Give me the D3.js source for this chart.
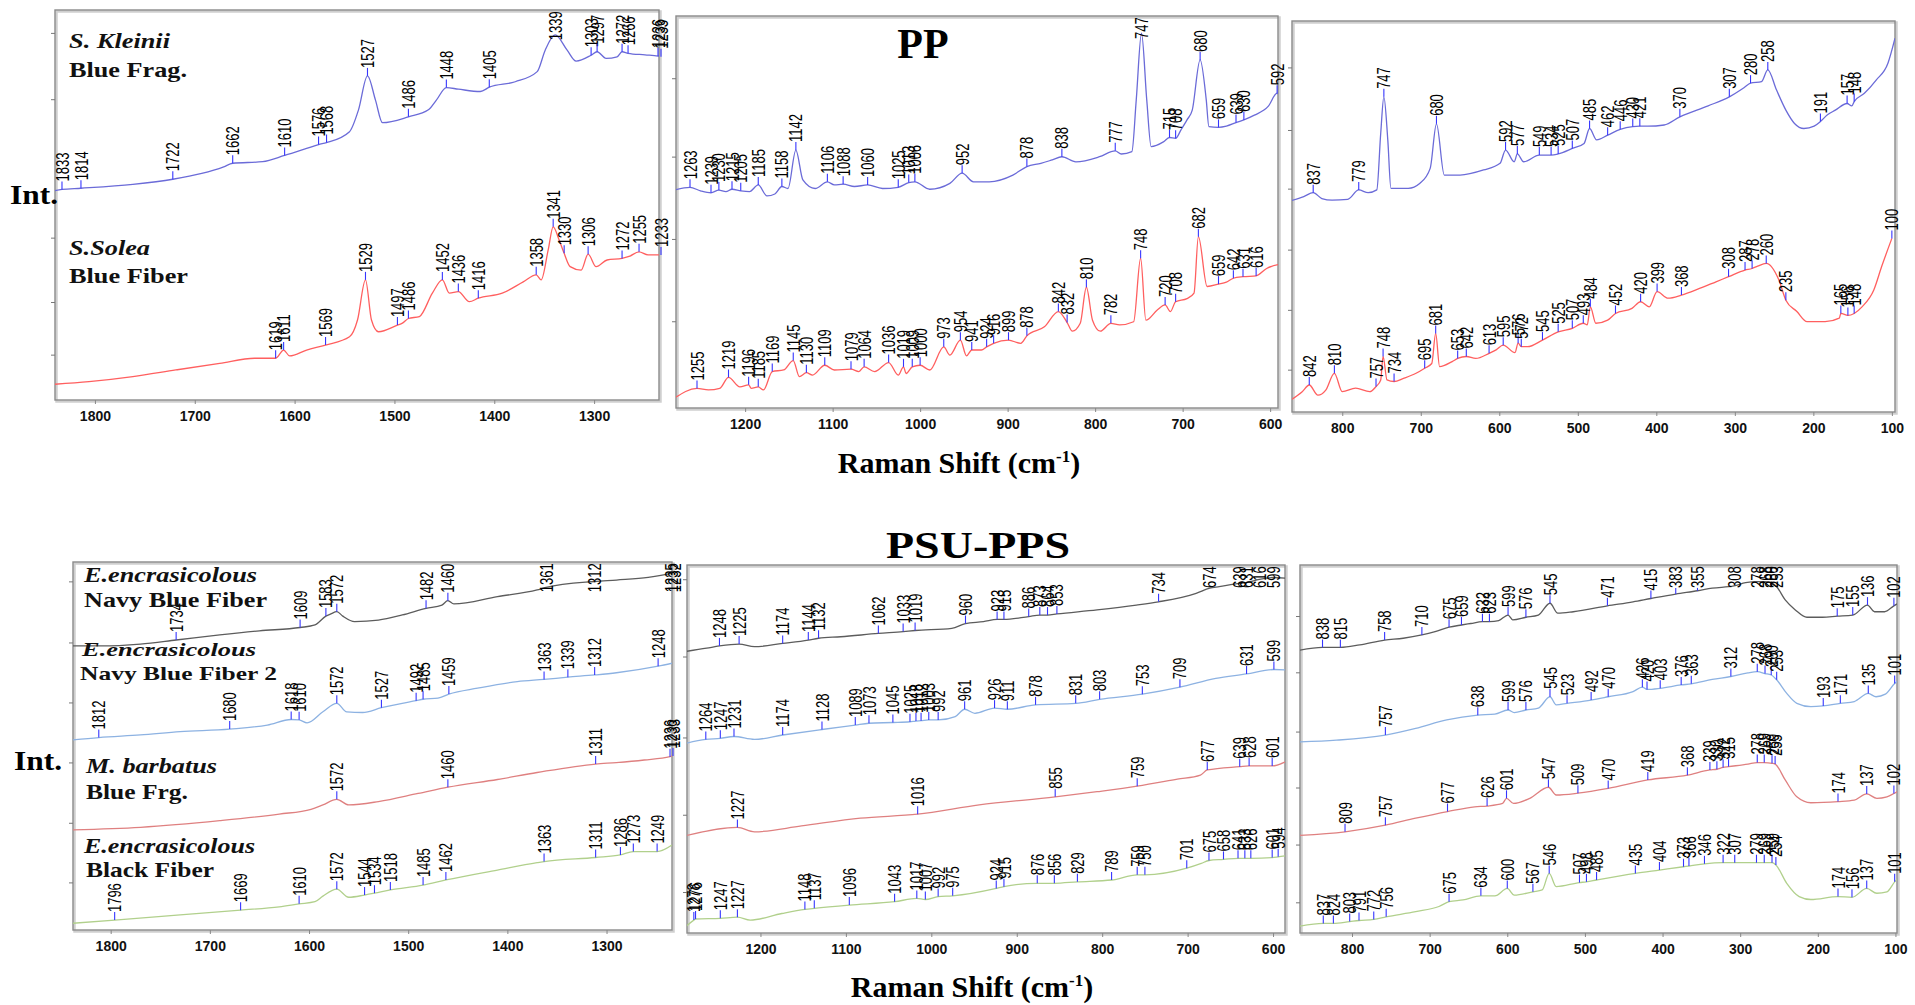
<!DOCTYPE html>
<html>
<head>
<meta charset="utf-8">
<script src="https://cdn.jsdelivr.net/npm/d3@7"></script>
<style>
  body { margin: 0; background: #fff; }
</style>
</head>
<body>
<svg id="chart"></svg>
<script>
// Raman spectra, PP (top) and PSU-PPS (bottom), intensity in arbitrary units 0-100 per panel

// ---- PP : S. Kleinii blue fragment ----
var kleiniiHi = [[1842,53.6],[1833,54.0],[1814,54.3],[1762,55.3],[1722,56.6],[1693,58.1],[1671,59.8],[1662,60.7],[1632,61.1],[1610,62.7],[1588,64.5],[1576,65.5],[1568,66.0],[1545,68.8],[1536,74.4],[1527,83.1],[1519,76.9],[1512,71.1],[1486,72.6],[1466,74.4],[1458,76.9],[1448,80.1],[1436,79.7],[1414,79.1],[1405,80.2],[1379,81.6],[1357,84.2],[1349,89.7],[1339,93.6],[1327,89.7],[1318,86.9],[1303,88.4],[1297,89.3],[1288,87.6],[1277,88.0],[1272,89.3],[1266,88.9],[1249,88.5],[1236,88.2],[1233,88.0],[1230,88.0]];
var kleiniiHiPeaks = [1833,1814,1722,1662,1610,1576,1568,1527,1486,1448,1405,1339,1303,1297,1272,1266,1236,1233];
var kleiniiMid = [[1281,55.6],[1263,56.3],[1251,55.4],[1239,54.9],[1230,55.6],[1222,55.2],[1215,55.8],[1205,55.4],[1195,55.2],[1185,56.9],[1175,54.1],[1166,54.6],[1158,56.5],[1151,56.0],[1142,65.8],[1134,58.2],[1120,56.0],[1106,57.7],[1098,56.9],[1088,57.1],[1075,56.5],[1060,56.9],[1043,56.0],[1025,56.3],[1013,57.5],[1006,57.7],[989,55.8],[966,57.3],[952,59.9],[939,57.7],[921,57.7],[894,59.4],[878,61.6],[862,62.4],[849,63.3],[838,64.1],[822,62.8],[795,64.1],[777,65.6],[770,64.8],[758,65.4],[753,78.6],[747,95.6],[741,78.6],[736,66.7],[722,67.9],[715,69.0],[708,68.8],[702,70.9],[695,73.5],[689,76.0],[680,88.8],[673,78.6],[670,71.8],[659,71.6],[650,71.9],[639,72.8],[630,73.5],[618,74.7],[602,77.0],[592,80.3],[588,79.0]];
var kleiniiMidPeaks = [1263,1239,1230,1215,1205,1185,1158,1142,1106,1088,1060,1025,1013,1006,952,878,838,777,747,715,708,680,659,639,630,592];
var kleiniiLow = [[866,54.0],[849,55.1],[837,56.1],[826,54.6],[813,54.2],[793,54.4],[779,56.8],[767,56.1],[756,56.8],[751,71.3],[747,80.6],[742,69.6],[738,57.2],[716,57.2],[701,58.5],[688,62.3],[680,73.7],[670,60.6],[650,60.6],[620,61.9],[599,63.6],[592,67.0],[581,64.0],[577,66.0],[569,64.0],[549,65.7],[534,65.7],[525,66.0],[507,67.4],[492,68.7],[485,72.5],[476,69.6],[462,70.8],[446,72.3],[430,73.0],[421,73.1],[411,73.1],[390,73.4],[370,75.5],[334,78.3],[307,80.6],[288,83.0],[280,84.1],[266,84.5],[258,87.5],[247,82.4],[235,77.2],[224,73.8],[212,72.5],[199,73.1],[191,74.3],[182,76.0],[172,77.2],[157,78.9],[151,78.3],[148,79.4],[135,81.5],[120,84.9],[105,89.2],[96,95.6]];
var kleiniiLowPeaks = [837,779,747,680,592,577,549,534,525,507,485,462,446,430,421,370,307,280,258,191,157,148];

// ---- PP : S. Solea blue fiber ----
var soleaHi = [[1842,4.0],[1806,4.7],[1762,6.0],[1719,7.7],[1675,9.4],[1640,10.7],[1619,10.7],[1611,12.8],[1605,11.3],[1588,12.8],[1569,14.1],[1545,16.2],[1537,20.5],[1529,30.8],[1523,20.5],[1516,17.5],[1497,19.2],[1492,19.7],[1486,20.9],[1475,21.4],[1462,27.4],[1452,30.8],[1445,27.4],[1436,27.8],[1425,25.2],[1416,26.1],[1392,27.4],[1371,30.3],[1358,32.1],[1353,30.8],[1346,38.5],[1341,44.4],[1335,41.0],[1330,37.6],[1324,34.2],[1313,33.3],[1306,37.4],[1298,34.2],[1287,35.9],[1272,36.3],[1265,36.8],[1255,38.0],[1246,37.2],[1233,37.2],[1230,37.5]];
var soleaHiPeaks = [1619,1611,1569,1529,1497,1486,1452,1436,1416,1358,1341,1330,1306,1272,1255,1233];
var soleaMid = [[1281,2.5],[1255,5.0],[1242,4.6],[1229,5.0],[1219,7.8],[1206,5.4],[1196,5.9],[1193,5.0],[1185,5.4],[1179,4.6],[1169,9.3],[1156,9.7],[1145,12.1],[1138,8.0],[1130,9.0],[1123,8.4],[1109,10.9],[1098,9.7],[1079,9.9],[1070,9.3],[1064,10.5],[1052,9.3],[1036,11.6],[1025,8.4],[1019,10.5],[1016,8.8],[1009,10.5],[1000,10.9],[989,9.7],[973,15.6],[966,13.5],[954,17.3],[947,13.3],[941,14.8],[930,14.8],[924,15.6],[916,16.5],[899,17.3],[885,16.5],[878,18.4],[858,20.7],[842,24.6],[832,21.8],[826,19.6],[817,21.6],[810,30.8],[803,22.4],[794,19.6],[782,21.6],[772,21.2],[756,22.0],[748,38.2],[742,22.4],[729,25.0],[720,26.3],[714,24.6],[708,27.1],[695,27.9],[687,29.3],[682,43.7],[672,31.0],[659,31.6],[650,32.1],[642,33.1],[631,33.5],[616,33.7],[604,35.6],[588,36.7]];
var soleaMidPeaks = [1255,1219,1196,1185,1169,1145,1130,1109,1079,1064,1036,1019,1009,1000,973,954,941,924,916,899,878,842,832,810,782,748,720,708,682,659,642,631,616];
var soleaLow = [[866,3.0],[851,5.2],[842,6.9],[831,4.3],[821,5.6],[810,9.9],[800,5.2],[783,6.1],[765,5.2],[757,6.5],[751,8.2],[748,14.2],[743,8.2],[734,7.8],[722,8.6],[706,9.9],[695,11.2],[686,12.4],[681,20.1],[676,11.6],[660,12.9],[653,13.7],[642,14.2],[630,13.7],[613,15.0],[604,15.9],[595,17.1],[580,15.2],[576,17.6],[572,16.7],[564,16.7],[545,18.4],[525,20.5],[507,21.4],[493,22.7],[488,22.3],[484,26.9],[477,22.7],[462,23.5],[452,25.2],[431,26.5],[420,28.2],[409,26.9],[399,30.8],[385,29.1],[368,29.9],[345,31.6],[324,33.3],[308,34.6],[287,36.3],[278,36.7],[271,37.3],[260,38.0],[244,33.8],[235,28.6],[221,25.7],[208,23.1],[185,23.1],[167,24.0],[165,25.2],[156,24.7],[148,25.2],[138,26.9],[123,31.2],[113,37.2],[100,44.4]];
var soleaLowPeaks = [842,810,757,748,734,695,681,653,642,613,595,576,572,545,525,507,493,484,452,420,399,368,308,287,278,260,235,165,156,148,100];

// ---- PSU-PPS : E. encrasicolous navy blue fiber ----
var navy1Hi = [[1840,77.2],[1810,77.2],[1770,77.7],[1734,78.8],[1690,80.2],[1650,81.3],[1609,82.2],[1594,82.9],[1583,85.3],[1578,85.9],[1572,86.5],[1566,85.3],[1554,83.8],[1530,84.2],[1506,85.6],[1482,87.4],[1466,88.3],[1460,89.5],[1454,88.6],[1410,90.6],[1370,92.4],[1361,93.1],[1312,94.7],[1290,95.1],[1258,95.8],[1235,96.9],[1232,97.1]];
var navy1HiPeaks = [1734,1609,1583,1572,1482,1460,1361,1312,1235,1232];
var navy1Mid = [[1288,76.5],[1263,77.4],[1248,78.0],[1225,78.5],[1207,77.8],[1174,78.7],[1144,79.6],[1132,80.1],[1106,80.5],[1062,81.4],[1033,81.9],[1019,82.2],[976,82.8],[960,84.1],[939,84.6],[923,85.2],[915,85.2],[886,86.0],[873,86.4],[864,86.4],[853,86.7],[806,87.8],[760,89.1],[734,90.0],[690,92.3],[674,93.7],[663,94.1],[639,95.0],[631,95.2],[616,96.1],[599,96.6],[585,96.4]];
var navy1MidPeaks = [1248,1225,1174,1144,1132,1062,1033,1019,960,923,915,886,873,864,853,734,674,639,631,616,599];
var navy1Low = [[869,76.8],[838,77.6],[815,77.6],[790,78.3],[758,79.6],[734,80.1],[710,81.0],[693,81.9],[675,83.1],[659,83.7],[647,84.1],[632,84.6],[623,84.6],[611,84.9],[599,86.4],[593,85.1],[576,85.8],[560,86.4],[545,89.6],[535,86.9],[515,87.3],[471,88.9],[438,90.0],[415,90.9],[383,92.1],[355,93.0],[336,93.7],[308,94.3],[293,95.2],[278,95.5],[268,95.5],[260,95.2],[253,94.1],[242,90.5],[229,87.8],[214,85.8],[194,85.8],[175,86.1],[155,86.4],[136,89.1],[127,87.3],[114,87.3],[102,88.9],[97,89.5]];
var navy1LowPeaks = [838,815,758,710,675,659,632,623,599,576,545,471,415,383,355,308,278,268,260,253,175,155,136,102];

// ---- PSU-PPS : E. encrasicolous navy blue fiber 2 ----
var navy2Hi = [[1840,51.6],[1812,52.3],[1770,53.0],[1730,53.9],[1680,54.6],[1642,55.7],[1618,57.2],[1610,57.1],[1602,56.3],[1586,59.3],[1572,61.6],[1562,59.3],[1546,59.1],[1527,60.4],[1506,61.6],[1492,62.3],[1485,62.7],[1470,63.0],[1459,64.1],[1430,65.7],[1390,67.5],[1363,68.1],[1339,68.7],[1312,69.3],[1290,69.9],[1248,71.7],[1232,72.6]];
var navy2HiPeaks = [1812,1680,1618,1610,1572,1527,1492,1485,1459,1363,1339,1312,1248];
var navy2Mid = [[1288,51.5],[1264,52.6],[1247,52.9],[1231,53.4],[1207,52.6],[1174,53.8],[1128,55.3],[1089,56.5],[1073,57.0],[1045,57.2],[1025,57.4],[1018,57.6],[1012,57.7],[1003,57.9],[992,57.9],[972,58.8],[961,60.8],[949,59.7],[926,61.1],[911,60.8],[878,62.0],[831,62.4],[803,63.5],[753,64.9],[709,66.8],[667,69.2],[631,70.4],[599,71.6],[585,71.5]];
var navy2MidPeaks = [1264,1247,1231,1174,1128,1089,1073,1045,1025,1018,1012,1003,992,961,926,911,878,831,803,753,709,631,599];
var navy2Low = [[869,51.9],[820,52.4],[757,53.8],[718,55.6],[678,57.9],[638,59.2],[616,59.5],[599,60.6],[591,59.9],[576,60.6],[560,61.1],[545,64.2],[537,62.0],[523,62.4],[492,63.3],[470,64.2],[438,65.6],[426,66.8],[420,66.2],[403,66.5],[376,67.4],[363,67.7],[336,68.9],[312,69.7],[290,70.7],[278,71.0],[268,70.5],[260,70.1],[253,68.8],[240,65.1],[227,62.4],[209,61.5],[193,61.7],[171,62.4],[153,62.9],[135,65.1],[125,64.2],[113,64.9],[101,67.8],[97,68.5]];
var navy2LowPeaks = [757,638,599,576,545,523,492,470,426,420,403,376,363,312,278,268,260,253,193,171,135,101];

// ---- PSU-PPS : M. barbatus blue fragment ----
var barbHi = [[1840,27.2],[1770,27.9],[1690,29.7],[1630,31.5],[1598,32.8],[1586,34.0],[1572,35.5],[1560,34.0],[1530,34.9],[1490,37.1],[1460,38.8],[1410,40.9],[1370,42.8],[1311,45.1],[1290,45.5],[1262,46.2],[1236,47.1],[1233,47.3]];
var barbHiPeaks = [1572,1460,1311,1236,1233];
var barbMid = [[1288,26.4],[1227,28.7],[1207,27.5],[1152,29.1],[1083,31.2],[1016,32.3],[944,34.8],[855,37.0],[806,38.4],[759,39.9],[712,41.8],[685,42.9],[677,44.3],[639,45.2],[628,45.4],[601,45.4],[585,46.6]];
var barbMidPeaks = [1227,1016,855,759,677,639,628,601];
var barbLow = [[869,26.5],[809,27.5],[757,29.3],[718,31.2],[677,33.0],[642,34.3],[626,34.5],[606,35.2],[601,36.6],[592,35.2],[571,36.6],[547,39.6],[537,37.5],[509,38.0],[470,39.3],[419,41.6],[368,42.9],[339,44.3],[330,44.5],[322,45.0],[315,45.2],[290,45.9],[278,46.3],[269,46.3],[259,46.1],[255,45.9],[242,41.6],[227,37.0],[209,35.4],[174,35.7],[153,36.1],[137,37.8],[124,36.6],[111,37.0],[102,37.9],[97,38.5]];
var barbLowPeaks = [809,757,677,626,601,547,509,470,419,368,339,330,322,315,278,269,259,255,174,137,102];

// ---- PSU-PPS : E. encrasicolous black fiber ----
var blackHi = [[1840,1.8],[1796,2.7],[1730,4.1],[1669,5.4],[1630,6.3],[1610,7.1],[1594,7.7],[1586,9.2],[1572,11.1],[1560,8.9],[1544,9.5],[1534,10.0],[1518,10.9],[1485,12.2],[1462,13.6],[1410,16.3],[1370,18.3],[1363,18.6],[1311,19.7],[1286,20.4],[1273,21.3],[1249,21.3],[1234,23.1]];
var blackHiPeaks = [1796,1669,1610,1572,1544,1534,1518,1485,1462,1363,1311,1286,1273,1249];
var blackMid = [[1288,1.6],[1278,3.5],[1276,3.8],[1247,4.0],[1227,4.3],[1212,3.5],[1175,5.3],[1148,6.4],[1137,6.7],[1096,7.6],[1043,8.5],[1017,9.4],[1007,9.1],[992,9.9],[975,10.1],[924,12.1],[915,12.6],[876,13.5],[856,13.5],[829,13.9],[789,14.4],[759,15.8],[750,15.8],[701,17.6],[684,18.9],[675,19.7],[658,20.0],[641,20.3],[633,20.3],[626,20.3],[601,20.5],[594,20.7],[585,21.0]];
var blackMidPeaks = [1278,1276,1247,1227,1148,1137,1096,1043,1017,1007,992,975,924,915,876,856,829,789,759,750,701,675,658,641,633,626,601,594];
var blackLow = [[869,1.8],[837,2.6],[824,2.6],[803,3.1],[791,3.4],[772,3.7],[756,4.4],[718,5.8],[688,7.2],[675,8.5],[657,9.0],[634,10.1],[616,10.1],[600,12.1],[591,10.3],[567,11.2],[555,11.7],[546,16.2],[537,12.6],[507,13.7],[498,13.9],[485,14.4],[435,16.2],[404,17.1],[373,18.0],[366,18.2],[346,18.8],[322,19.1],[307,19.1],[279,19.1],[269,19.1],[259,19.1],[254,18.5],[240,13.5],[224,9.9],[209,9.1],[174,9.9],[156,9.7],[137,12.1],[124,10.8],[111,11.2],[101,13.9],[97,14.8]];
var blackLowPeaks = [837,824,803,791,772,756,675,634,600,567,546,507,498,485,435,404,373,366,346,322,307,279,269,259,254,174,156,137,101];

// axis ticks
var ticksHi = [1800, 1700, 1600, 1500, 1400, 1300];
var ticksMid = [1200, 1100, 1000, 900, 800, 700, 600];
var ticksLow = [800, 700, 600, 500, 400, 300, 200, 100];

// sample captions
var topNames = ["S. Kleinii", "S.Solea"];
var topKinds = ["Blue Frag.", "Blue Fiber"];
var bottomNames = ["E.encrasicolous", "E.encrasicolous", "M. barbatus", "E.encrasicolous"];
var bottomKinds = ["Navy Blue Fiber", "Navy Blue Fiber 2", "Blue Frg.", "Black Fiber"];

var W = 1915, H = 1005;
var svg = d3.select("#chart").attr("width", W).attr("height", H);

var serif = "'Liberation Serif', 'Times New Roman', serif";
var sans = "'Liberation Sans', Arial, sans-serif";

var cBlue = "#6b6bd8", cRed = "#ff5f5f";
var cGray = "#5c5c5c", cLtBlue = "#8db2e2", cRose = "#df8080", cGreen = "#b1d08c";

var panels = [
    { x0: 55, x1: 659, y0: 10, y1: 400, dom: [1840, 1235], ticks: ticksHi, yt: [94, 77, 41.5, 25, 11.5],
      series: [[kleiniiHi, kleiniiHiPeaks, cBlue], [soleaHi, soleaHiPeaks, cRed]] },
    { x0: 676, x1: 1278, y0: 16, y1: 408, dom: [1279, 591], ticks: ticksMid, yt: [84, 64, 43, 22],
      series: [[kleiniiMid, kleiniiMidPeaks, cBlue], [soleaMid, soleaMidPeaks, cRed]] },
    { x0: 1292, x1: 1895, y0: 21, y1: 412, dom: [864, 96], ticks: ticksLow, yt: [88, 72, 57, 41.4, 26, 10.7],
      series: [[kleiniiLow, kleiniiLowPeaks, cBlue], [soleaLow, soleaLowPeaks, cRed]] },
    { x0: 73, x1: 672, y0: 562, y1: 930, dom: [1838, 1234], ticks: ticksHi, yt: [94.6, 78, 61.7, 45.4, 29, 12.8],
      series: [[navy1Hi, navy1HiPeaks, cGray], [navy2Hi, navy2HiPeaks, cLtBlue], [barbHi, barbHiPeaks, cRose], [blackHi, blackHiPeaks, cGreen]] },
    { x0: 687, x1: 1285, y0: 565, y1: 933, dom: [1286, 586], ticks: ticksMid, yt: [96, 75, 53, 32, 11],
      series: [[navy1Mid, navy1MidPeaks, cGray], [navy2Mid, navy2MidPeaks, cLtBlue], [barbMid, barbMidPeaks, cRose], [blackMid, blackMidPeaks, cGreen]] },
    { x0: 1300, x1: 1897, y0: 565, y1: 933, dom: [867, 98], ticks: ticksLow, yt: [86, 70.7, 54.6, 39.4, 23.9, 8.2],
      series: [[navy1Low, navy1LowPeaks, cGray], [navy2Low, navy2LowPeaks, cLtBlue], [barbLow, barbLowPeaks, cRose], [blackLow, blackLowPeaks, cGreen]] }
];

function drawPanel(p, idx) {
    var x = d3.scaleLinear().domain(p.dom).range([p.x0, p.x1]);
    var y = d3.scaleLinear().domain([0, 100]).range([p.y1, p.y0]);
    var g = svg.append("g");
    var clipId = "clip" + idx;

    g.append("clipPath").attr("id", clipId).append("rect")
        .attr("x", p.x0).attr("y", p.y0)
        .attr("width", p.x1 - p.x0).attr("height", p.y1 - p.y0);

    // frame with soft shadow
    g.append("rect")
        .attr("x", p.x0 + 1.5).attr("y", p.y0 + 1.5)
        .attr("width", p.x1 - p.x0).attr("height", p.y1 - p.y0)
        .attr("fill", "none").attr("stroke", "#cfcfcf").attr("stroke-width", 2.5);
    g.append("rect")
        .attr("x", p.x0).attr("y", p.y0)
        .attr("width", p.x1 - p.x0).attr("height", p.y1 - p.y0)
        .attr("fill", "none").attr("stroke", "#8a8a8a").attr("stroke-width", 1.4);

    var axis = g.append("g")
        .attr("transform", "translate(0," + p.y1 + ")")
        .call(d3.axisBottom(x).tickValues(p.ticks).tickFormat(d3.format("d"))
            .tickSizeInner(4).tickSizeOuter(0).tickPadding(7));
    axis.select(".domain").remove();
    axis.selectAll(".tick line").attr("stroke", "#888");
    axis.selectAll("text")
        .attr("font-family", sans).attr("font-weight", "bold")
        .attr("font-size", 14).attr("fill", "#111");

    g.selectAll(".ytick").data(p.yt).enter().append("line")
        .attr("x1", p.x0).attr("x2", p.x0 - 4)
        .attr("y1", function (d) { return y(d); })
        .attr("y2", function (d) { return y(d); })
        .attr("stroke", "#777").attr("stroke-width", 1);

    var line = d3.line()
        .x(function (d) { return x(d[0]); })
        .y(function (d) { return y(d[1]); })
        .curve(d3.curveMonotoneX);

    p.series.forEach(function (s) {
        var pts = s[0], peaks = s[1], col = s[2];

        g.append("path").datum(pts)
            .attr("d", line)
            .attr("fill", "none").attr("stroke", col).attr("stroke-width", 1.3)
            .attr("clip-path", "url(#" + clipId + ")");

        peaks.forEach(function (wn) {
            var pt = d3.least(pts, function (d) { return Math.abs(d[0] - wn); });
            var px = x(wn), py = y(pt[1]);
            var len = String(wn).length * 7.3;
            var lb = Math.max(py - 8, p.y0 + len + 1);
            if (lb < py - 1) {
                g.append("line")
                    .attr("x1", px).attr("x2", px).attr("y1", py).attr("y2", lb)
                    .attr("stroke", "#3535ff").attr("stroke-width", 1.1);
            }
            g.append("text")
                .attr("transform", "translate(" + px + "," + lb + ") rotate(-90) scale(1,1.4)")
                .attr("dy", "0.36em")
                .attr("font-family", sans).attr("font-size", 13)
                .attr("fill", "#000")
                .text(wn);
        });
    });
}

panels.forEach(drawPanel);

// captions inside the panels
function caption(txt, cx, cy, w, italic, fs) {
    svg.append("text")
        .attr("x", cx).attr("y", cy)
        .attr("font-family", serif).attr("font-weight", "bold")
        .attr("font-style", italic ? "italic" : "normal")
        .attr("font-size", fs || 22).attr("fill", "#111")
        .attr("textLength", w).attr("lengthAdjust", "spacingAndGlyphs")
        .text(txt);
}

caption(topNames[0], 69, 48, 101, true);
caption(topKinds[0], 69, 77, 118, false);
caption(topNames[1], 69, 255, 81, true);
caption(topKinds[1], 69, 283, 119, false);

caption(bottomNames[0], 84, 582, 173, true);
caption(bottomKinds[0], 84, 607, 183, false);
caption(bottomNames[1], 82, 656, 174, true, 19);
caption(bottomKinds[1], 80, 680, 197, false, 19);
caption(bottomNames[2], 86, 773, 131, true);
caption(bottomKinds[2], 86, 799, 102, false);
caption(bottomNames[3], 84, 853, 171, true);
caption(bottomKinds[3], 86, 877, 128, false);

// titles
svg.append("text").attr("x", 923).attr("y", 58).attr("text-anchor", "middle")
    .attr("font-family", serif).attr("font-weight", "bold").attr("font-size", 42)
    .attr("fill", "#000").text("PP");
svg.append("text").attr("x", 978).attr("y", 558).attr("text-anchor", "middle")
    .attr("font-family", serif).attr("font-weight", "bold").attr("font-size", 38)
    .attr("textLength", 184).attr("lengthAdjust", "spacingAndGlyphs")
    .attr("fill", "#000").text("PSU-PPS");

// y labels
[[10, 204], [14, 770]].forEach(function (pos) {
    svg.append("text").attr("x", pos[0]).attr("y", pos[1])
        .attr("font-family", serif).attr("font-weight", "bold").attr("font-size", 28)
        .attr("textLength", 48).attr("lengthAdjust", "spacingAndGlyphs")
        .attr("fill", "#000").text("Int.");
});

// x labels
[[959, 473], [972, 997]].forEach(function (pos) {
    var t = svg.append("text").attr("x", pos[0]).attr("y", pos[1])
        .attr("text-anchor", "middle")
        .attr("font-family", serif).attr("font-weight", "bold").attr("font-size", 30)
        .attr("fill", "#000");
    t.append("tspan").text("Raman Shift (cm");
    t.append("tspan").attr("dy", -11).attr("font-size", 17).text("-1");
    t.append("tspan").attr("dy", 11).text(")");
});
</script>
</body>
</html>
